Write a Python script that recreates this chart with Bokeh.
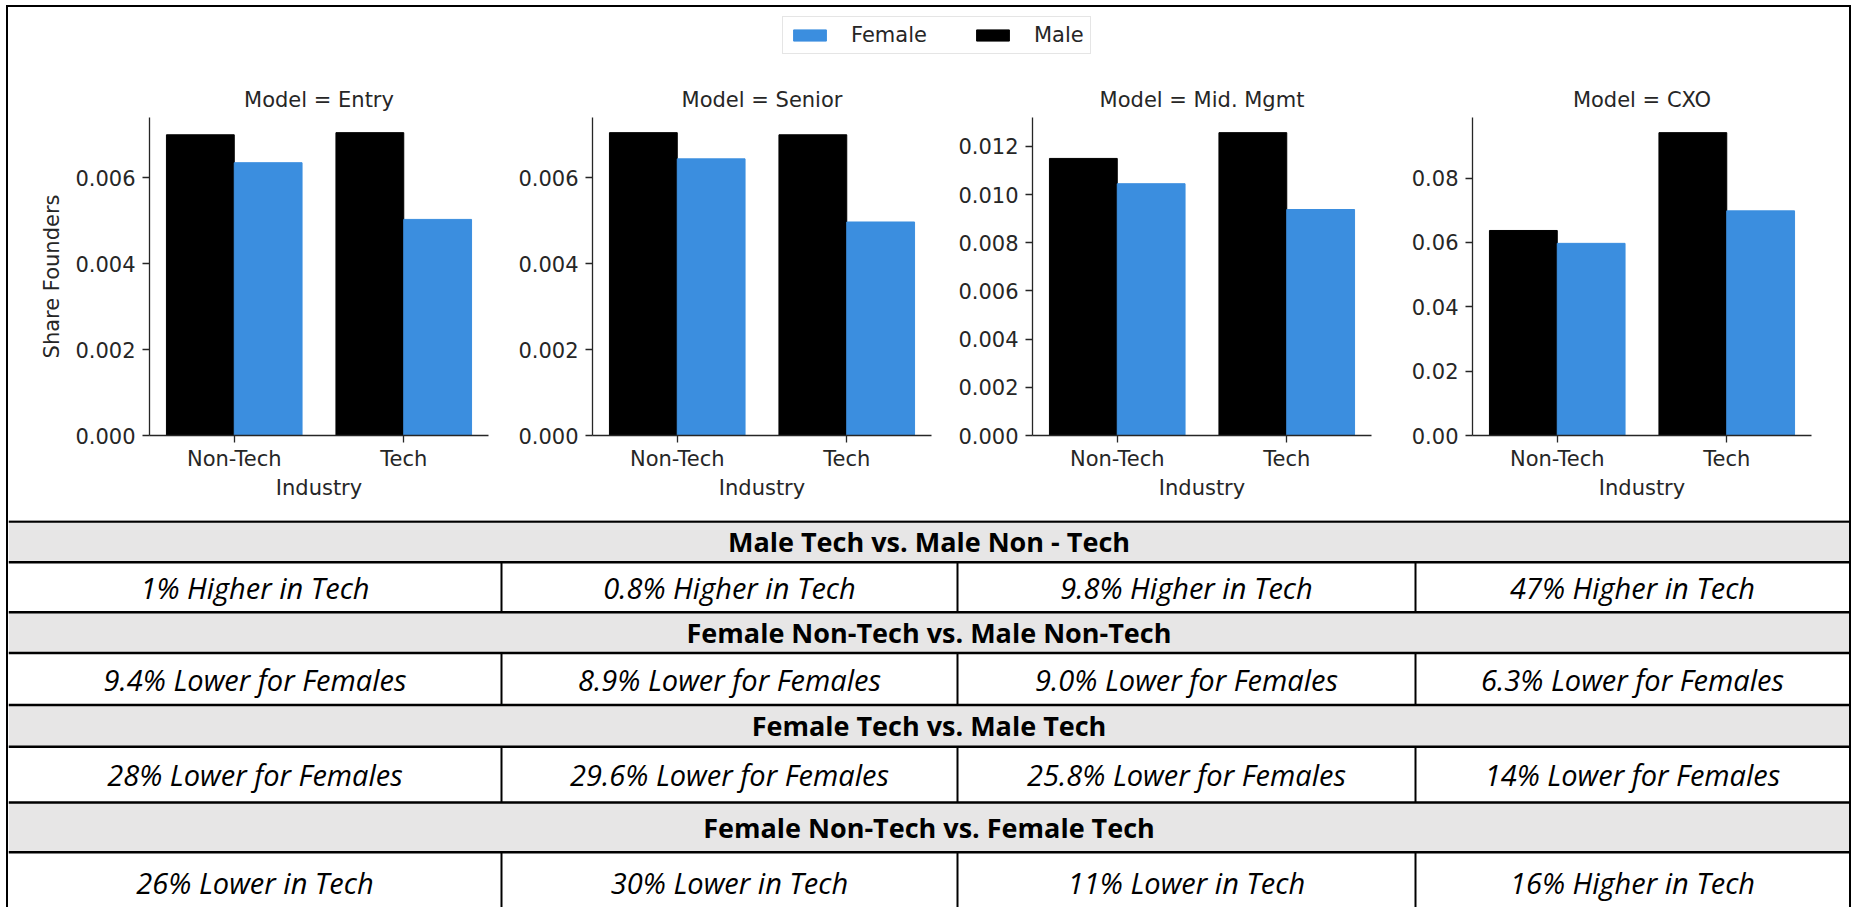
from bokeh.plotting import figure
from bokeh.models import (ColumnDataSource, FactorRange, Range1d, FixedTicker,
                          PrintfTickFormatter, Legend, LegendItem)
from bokeh.transform import dodge
from bokeh.layouts import row, column
from bokeh.core.properties import value
from bokeh.embed import file_html
from bokeh.resources import INLINE

# ---------------- data ----------------
industries = ["Non-Tech", "Tech"]
models = ["Entry", "Senior", "Mid. Mgmt", "CXO"]

male_entry = [0.00700, 0.00705]
female_entry = [0.00635, 0.00503]
male_senior = [0.00705, 0.00700]
female_senior = [0.00644, 0.00497]
male_mid = [0.01150, 0.01257]
female_mid = [0.01045, 0.00938]
male_cxo = [0.0637, 0.0941]
female_cxo = [0.0597, 0.0698]

ticks_entry = [0.0, 0.002, 0.004, 0.006]
ticks_senior = [0.0, 0.002, 0.004, 0.006]
ticks_mid = [0.0, 0.002, 0.004, 0.006, 0.008, 0.010, 0.012]
ticks_cxo = [0.0, 0.02, 0.04, 0.06, 0.08]
tick_formats = ["%.3f", "%.3f", "%.3f", "%.2f"]

table_headers = [
    "Male Tech vs. Male Non - Tech",
    "Female Non-Tech vs. Male Non-Tech",
    "Female Tech vs. Male Tech",
    "Female Non-Tech vs. Female Tech",
]
table_row1 = ["1% Higher in Tech", "0.8% Higher in Tech", "9.8% Higher in Tech", "47% Higher in Tech"]
table_row2 = ["9.4% Lower for Females", "8.9% Lower for Females", "9.0% Lower for Females", "6.3% Lower for Females"]
table_row3 = ["28% Lower for Females", "29.6% Lower for Females", "25.8% Lower for Females", "14% Lower for Females"]
table_row4 = ["26% Lower in Tech", "30% Lower in Tech", "11% Lower in Tech", "16% Higher in Tech"]

# ---------------- style / layout ----------------
FEMALE_COLOR = "#3B8EDF"
MALE_COLOR = "#000000"
INK = "#262626"
CHART_FONT = "DejaVu Sans"
TABLE_FONT = "Open Sans"

INNER_W = 1841
HEADER_H = 60
PANEL_H = 453
TABLE_H = 387
FRAME_W = 339
PANEL_TOP = 50
PANEL_BOTTOM = 85
panel_left = [141, 80, 80, 80]
panel_right = [24, 21, 21, 38]

male_all = [male_entry, male_senior, male_mid, male_cxo]
female_all = [female_entry, female_senior, female_mid, female_cxo]
ticks_all = [ticks_entry, ticks_senior, ticks_mid, ticks_cxo]

# ---------------- legend header ----------------
head = figure(width=INNER_W, height=HEADER_H, x_range=FactorRange(factors=industries),
              y_range=Range1d(1, 2), min_border=0,
              x_axis_location=None, y_axis_location=None,
              toolbar_location=None, output_backend="svg")
head.grid.visible = False
head.outline_line_color = None
leg_src = ColumnDataSource(dict(industry=industries, male=male_entry, female=female_entry))
# bars lie below the visible y-range: only their legend swatches show
r_f = head.vbar(x="industry", top="female", width=0.4, source=leg_src,
                fill_color=FEMALE_COLOR, line_color=FEMALE_COLOR)
r_m = head.vbar(x="industry", top="male", width=0.4, source=leg_src,
                fill_color=MALE_COLOR, line_color=MALE_COLOR)
legend = Legend(items=[LegendItem(label="Female", renderers=[r_f]),
                       LegendItem(label="Male", renderers=[r_m])],
                orientation="horizontal", location=(774, 13),
                glyph_width=41, glyph_height=14, label_standoff=21, spacing=45,
                padding=6, margin=0, label_text_font=CHART_FONT,
                label_text_font_size="21px", label_text_color=INK,
                border_line_color="#cccccc", border_line_width=1.2,
                background_fill_color="white", background_fill_alpha=1)
head.add_layout(legend)

# ---------------- panels ----------------
panels = []
for i, model in enumerate(models):
    male = male_all[i]
    female = female_all[i]
    ymax = max(male + female) * 1.05
    src = ColumnDataSource(dict(industry=industries, male=male, female=female))
    w = panel_left[i] + FRAME_W + panel_right[i]
    p = figure(x_range=FactorRange(factors=industries), y_range=Range1d(0, ymax),
               width=w, height=PANEL_H, min_border_left=panel_left[i],
               min_border_right=panel_right[i], min_border_top=PANEL_TOP,
               min_border_bottom=PANEL_BOTTOM, title="Model = " + model,
               toolbar_location=None, output_backend="svg")
    p.vbar(x=dodge("industry", -0.2, range=p.x_range), top="male", width=0.4, source=src,
           fill_color=MALE_COLOR, line_color=MALE_COLOR)
    p.vbar(x=dodge("industry", 0.2, range=p.x_range), top="female", width=0.4, source=src,
           fill_color=FEMALE_COLOR, line_color=FEMALE_COLOR)
    p.title.align = "center"
    p.title.text_font = CHART_FONT
    p.title.text_font_size = "21px"
    p.title.text_font_style = "normal"
    p.title.text_color = INK
    p.title.standoff = 11
    p.grid.visible = False
    p.outline_line_color = None
    for ax in (p.xaxis[0], p.yaxis[0]):
        ax.axis_line_color = INK
        ax.axis_line_width = 1.3
        ax.major_tick_line_color = INK
        ax.major_tick_line_width = 1.3
        ax.major_tick_out = 7
        ax.major_tick_in = 0
        ax.minor_tick_line_color = None
        ax.major_label_text_font = CHART_FONT
        ax.major_label_text_font_size = "21px"
        ax.major_label_text_color = INK
        ax.axis_label_text_font = CHART_FONT
        ax.axis_label_text_font_size = "21px"
        ax.axis_label_text_font_style = "normal"
        ax.axis_label_text_color = INK
    p.xaxis.major_label_standoff = 4
    p.yaxis.major_label_standoff = 7
    p.xaxis.axis_label = "Industry"
    p.xaxis.axis_label_standoff = 2
    p.yaxis.ticker = FixedTicker(ticks=ticks_all[i])
    p.yaxis.formatter = PrintfTickFormatter(format=tick_formats[i])
    if i == 0:
        p.yaxis.axis_label = "Share Founders"
        p.yaxis.axis_label_standoff = 8
    panels.append(p)

# ---------------- table ----------------
col_edges = [0, 493, 949, 1407, INNER_W]
row_heights = [40.7, 50, 40.8, 52, 41.8, 55.7, 49.7, 60]
row_top0 = 1
row_edges = [row_top0]
for hgt in row_heights:
    row_edges.append(row_edges[-1] + hgt)

tab = figure(width=INNER_W, height=TABLE_H, x_range=Range1d(0, INNER_W),
             y_range=Range1d(TABLE_H, 0), min_border=0,
             x_axis_location=None, y_axis_location=None,
             toolbar_location=None, output_backend="svg")
tab.grid.visible = False
tab.outline_line_color = None

hdr_top = [row_edges[2 * k] for k in range(4)]
hdr_bot = [row_edges[2 * k + 1] for k in range(4)]
tab.quad(left=[0] * 4, right=[INNER_W] * 4, top=hdr_top, bottom=hdr_bot,
         fill_color="#E7E6E6", line_color=None)

# horizontal rules
tab.segment(x0=[0] * len(row_edges), x1=[INNER_W] * len(row_edges),
            y0=row_edges, y1=row_edges, line_color="black", line_width=2.5)
# vertical dividers in data rows
vx, vy0, vy1 = [], [], []
for k in range(4):
    for c in col_edges[1:-1]:
        vx.append(c)
        vy0.append(row_edges[2 * k + 1])
        vy1.append(row_edges[2 * k + 2])
tab.segment(x0=vx, x1=vx, y0=vy0, y1=vy1, line_color="black", line_width=2)

# header texts
hdr_y = [(row_edges[2 * k] + row_edges[2 * k + 1]) / 2 for k in range(4)]
tab.text(x=[INNER_W / 2] * 4, y=hdr_y, text=table_headers, text_align="center",
         text_baseline="middle", text_font=value(TABLE_FONT), text_font_style="bold",
         text_font_size="27px", text_color="black")

# data texts
data_rows = [table_row1, table_row2, table_row3, table_row4]
dx, dy, dt = [], [], []
for k, rowvals in enumerate(data_rows):
    yc = (row_edges[2 * k + 1] + row_edges[2 * k + 2]) / 2
    for c in range(4):
        dx.append((col_edges[c] + col_edges[c + 1]) / 2)
        dy.append(yc)
        dt.append(rowvals[c])
tab.text(x=dx, y=dy, text=dt, text_align="center", text_baseline="middle",
         text_font=value(TABLE_FONT), text_font_style="italic",
         text_font_size="29px", text_color="black")

layout = column(head, row(*panels), tab,
                styles={"margin-left": "6px", "margin-top": "5px",
                        "border-top": "2px solid black",
                        "border-left": "2px solid black",
                        "border-right": "2px solid black"})

open("out.html", "w").write(file_html(layout, INLINE))
